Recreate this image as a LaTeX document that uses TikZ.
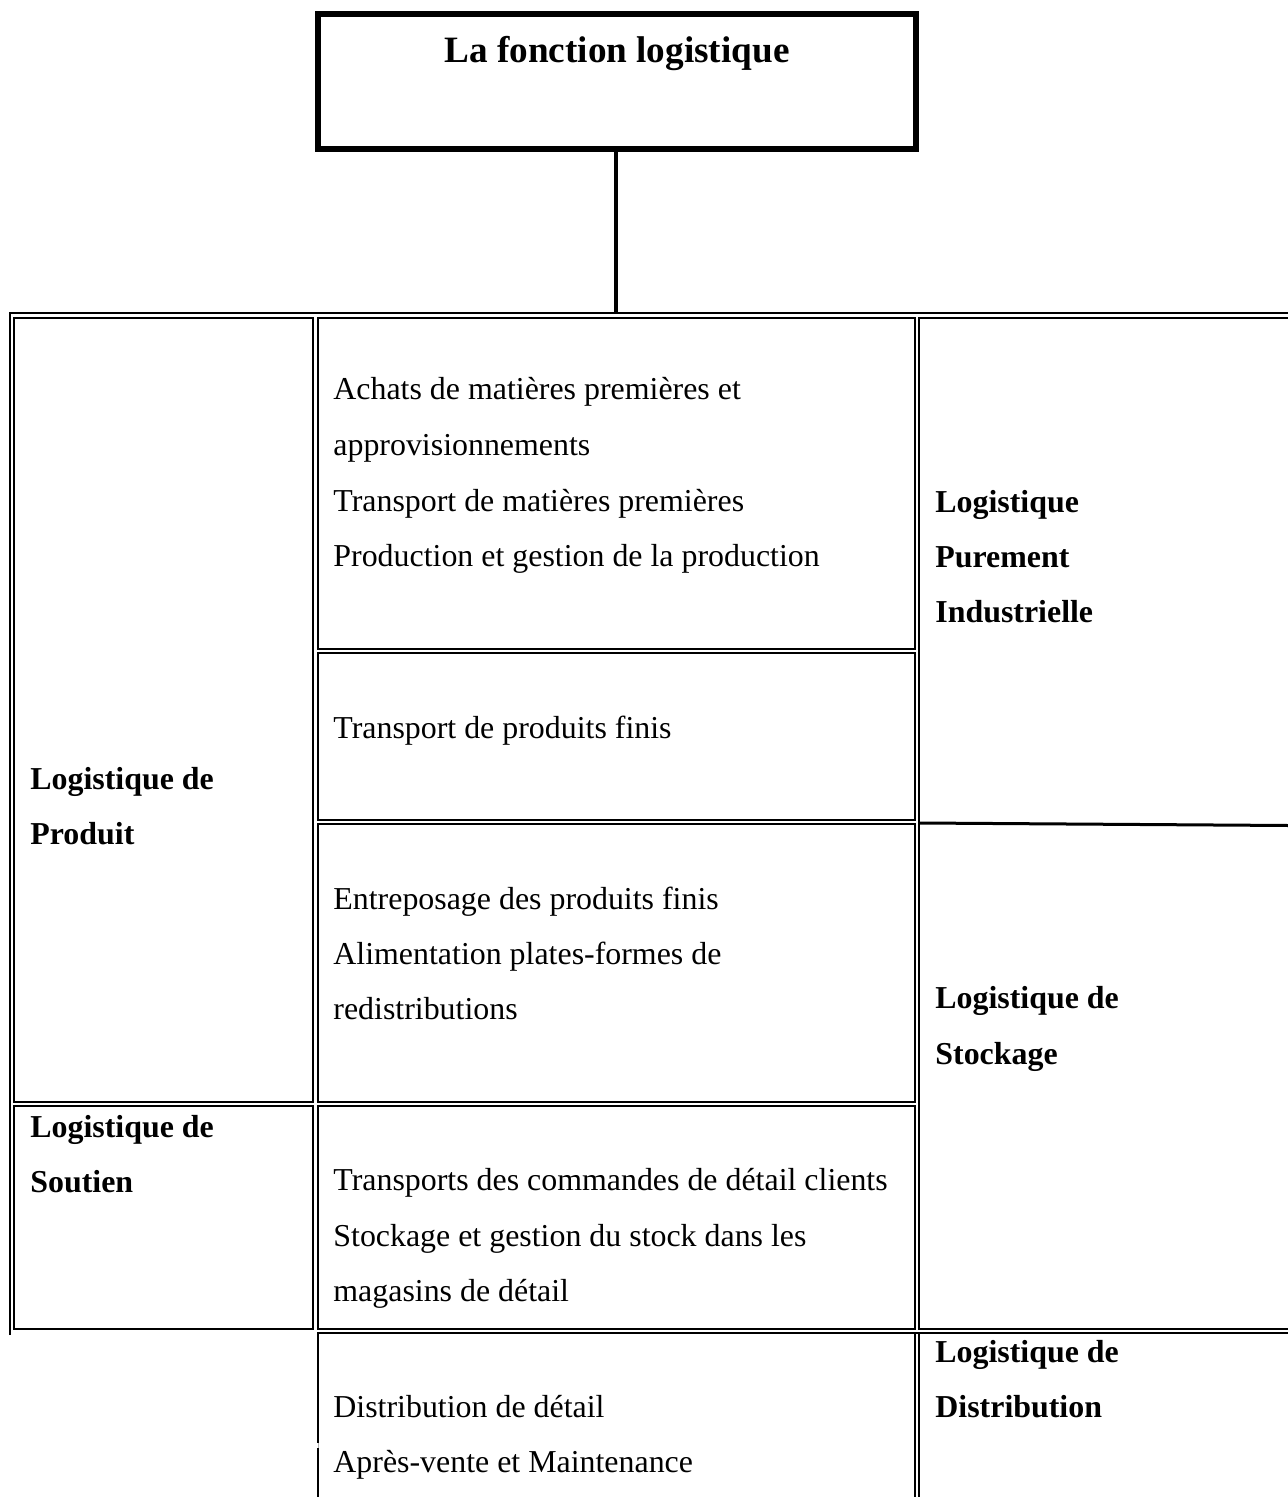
\documentclass[tikz,border=0pt]{standalone}
\usepackage{fontspec}
\setmainfont{Liberation Serif}
\usetikzlibrary{fit}
\begin{document}
\begin{tikzpicture}[x=0.5pt,y=-0.5pt,
  cellbox/.style={draw, line width=1.2pt, inner sep=0pt},
  titlebox/.style={draw, line width=2.6pt, inner sep=0pt},
  conn/.style={line width=2pt},
  frame/.style={line width=1.2pt},
  body/.style={anchor=base west, inner sep=0pt, font=\fontsize{15.95}{19}\selectfont},
  head/.style={anchor=base west, inner sep=0pt, font=\fontsize{15.95}{19}\selectfont\bfseries},
  bigtitle/.style={anchor=base, inner sep=0pt, font=\fontsize{18.6}{22}\selectfont\bfseries}]
\useasboundingbox (0,0) rectangle (1288,1497);
\clip (0,0) rectangle (1288,1497);

% title box and its link to the table
\node[titlebox, fit={(318,14) (916,149)}] (title) {};
\node[bigtitle] (titletext) at (617,63) {La fonction logistique};
\coordinate (tabletop) at (616,312);
\draw[conn] (title.south -| tabletop) -- (tabletop);

% outer frame of the table
\draw[frame] (10,1335) -- (10,313) -- (1300,313);

% left column
\node[cellbox, fit={(14,318) (313,1102)}] (produit) {};
\node[cellbox, fit={(14,1106) (313,1329)}] (soutien) {};

% middle column
\node[cellbox, fit={(318,318) (915,649)}] (amont) {};
\node[cellbox, fit={(318,653) (915,820)}] (transpf) {};
\node[cellbox, fit={(318,824) (915,1102)}] (entrepot) {};
\node[cellbox, fit={(318,1106) (915,1329)}] (detail) {};
\draw[frame] (1300,1333) -- (318,1333) -- (318,1443);
\draw[frame] (318,1448) -- (318,1510);
\draw[line width=0.3pt, gray!60] (318,1443) -- (318,1448);
\draw[frame] (915,1333) -- (915,1510);

% right column
\node[cellbox, fit={(919,318) (1320,1329)}] (droite) {};
\draw[frame] (919,1333) -- (919,1510);
\coordinate (sepL) at (920,823);
\coordinate (sepR) at (1288,825.5);
\draw[line width=1.5pt] (sepL) -- (sepR);

% texts, left column
\node[head] (t1) at (30,789) {Logistique de};
\node[head] (t2) at (30,844) {Produit};
\node[head] (t3) at (30,1137) {Logistique de};
\node[head] (t4) at (30,1192) {Soutien};

% texts, middle column
\node[body] (m1) at (333,400) {Achats de matières premières et};
\node[body] (m2) at (333,456) {approvisionnements};
\node[body] (m3) at (333,511) {Transport de matières premières};
\node[body] (m4) at (333,566) {Production et gestion de la production};
\node[body] (m5) at (333,738) {Transport de produits finis};
\node[body] (m6) at (333,909) {Entreposage des produits finis};
\node[body] (m7) at (333,964) {Alimentation plates-formes de};
\node[body] (m8) at (333,1019) {redistributions};
\node[body] (m9) at (333,1190) {Transports des commandes de détail clients};
\node[body] (m10) at (333,1246) {Stockage et gestion du stock dans les};
\node[body] (m11) at (333,1301) {magasins de détail};
\node[body] (m12) at (333,1417) {Distribution de détail};
\node[body] (m13) at (333,1472) {Après-vente et Maintenance};

% texts, right column
\node[head] (r1) at (935,512) {Logistique};
\node[head] (r2) at (935,567) {Purement};
\node[head] (r3) at (935,622) {Industrielle};
\node[head] (r4) at (935,1008) {Logistique de};
\node[head] (r5) at (935,1064) {Stockage};
\node[head] (r6) at (935,1362) {Logistique de};
\node[head] (r7) at (935,1417) {Distribution};
\end{tikzpicture}
\end{document}
